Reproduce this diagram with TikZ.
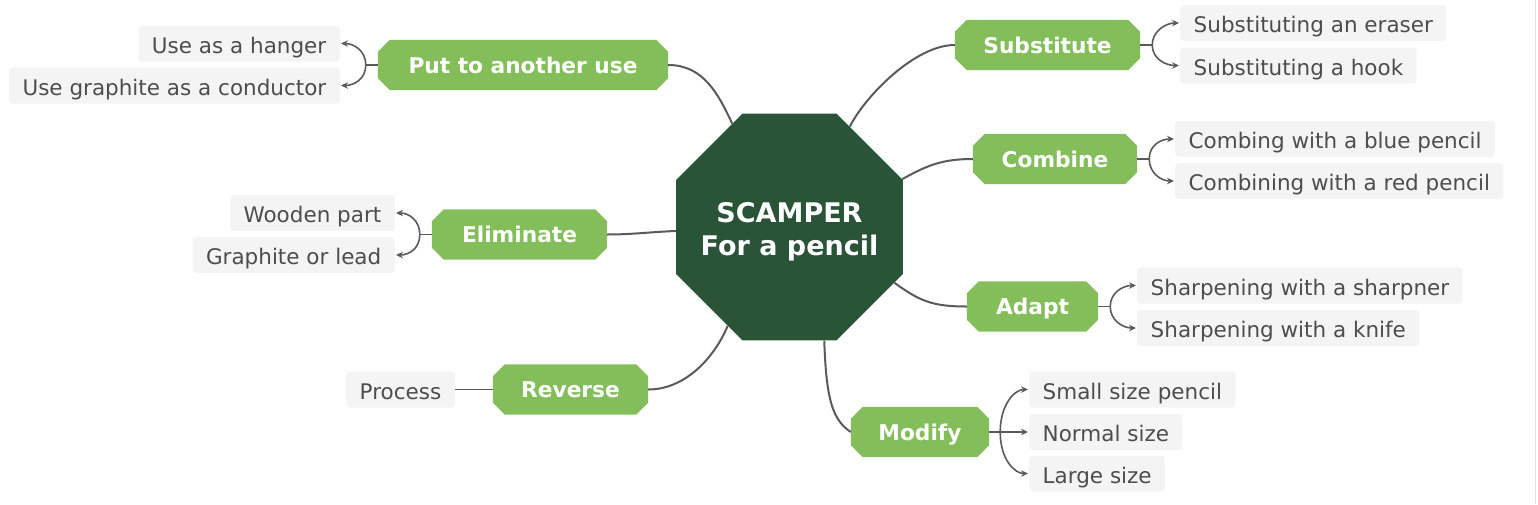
\documentclass[tikz,border=0pt]{standalone}
\usepackage{fontspec}
\setmainfont{DejaVu Sans}
\usetikzlibrary{shapes.geometric,arrows.meta,calc,backgrounds}
\definecolor{dkgreen}{RGB}{41,84,56}
\definecolor{ltgreen}{RGB}{132,190,90}
\definecolor{leafbg}{RGB}{244,244,244}
\definecolor{leaftxt}{RGB}{77,77,77}
\definecolor{linec}{RGB}{90,90,90}
\definecolor{edgec}{RGB}{225,225,225}
\tikzset{
  centerbox/.style={regular polygon, regular polygon sides=8, minimum size=245.6pt, inner sep=0pt,
    fill=dkgreen, text=white, font=\fontsize{27}{33}\selectfont\bfseries},
  gbox/.style={minimum height=50pt, inner sep=0pt, text height=16pt, text depth=0pt, text=white,
    font=\fontsize{21.7}{26}\selectfont\bfseries},
  leaf/.style={fill=leafbg, rounded corners=4pt, minimum height=36pt, inner xsep=13.5pt, inner ysep=0pt,
    text height=19pt, text depth=0pt, text=leaftxt, font=\fontsize{21.5}{26}\selectfont},
  mainline/.style={draw=linec, line width=2pt},
  subline/.style={draw=linec, line width=1.6pt},
  arrline/.style={subline, -{Stealth[length=7pt,width=6.5pt]}, shorten >=1pt},
}
\newcommand{\chamfill}[2]{%
  \begin{scope}[on background layer]
  \fill[ltgreen] ($(#1.north west)+(#2,0pt)$) -- ($(#1.north east)+(-#2,0pt)$) -- ($(#1.north east)+(0pt,-#2)$)
    -- ($(#1.south east)+(0pt,#2)$) -- ($(#1.south east)+(-#2,0pt)$) -- ($(#1.south west)+(#2,0pt)$)
    -- ($(#1.south west)+(0pt,#2)$) -- ($(#1.north west)+(0pt,-#2)$) -- cycle;
  \end{scope}}
\begin{document}
\begin{tikzpicture}[x=1pt,y=-1pt]
\useasboundingbox (0,0) rectangle (1538,504);
\draw[edgec, line width=1pt] (1535.5,0) -- (1535.5,504);

% center
\node[centerbox] (c) at (789.5,227) {\smash{\makebox[0pt]{\raisebox{-12pt}{\begin{tabular}{@{}c@{}}SCAMPER\\For a pencil\end{tabular}}}}};

% green nodes
\node[gbox, minimum width=290pt] (put) at (523,65) {Put to another use};
\node[gbox, minimum width=175pt] (elim) at (519.5,234.5) {Eliminate};
\node[gbox, minimum width=155pt] (rev) at (570.5,389.5) {Reverse};
\node[gbox, minimum width=185pt] (subst) at (1047.5,45) {Substitute};
\node[gbox, minimum width=164pt] (comb) at (1055,159) {Combine};
\node[gbox, minimum width=131pt] (adapt) at (1032.5,306.5) {Adapt};
\node[gbox, minimum width=138pt] (mod) at (920,432) {Modify};
\chamfill{put}{12pt}
\chamfill{elim}{12pt}
\chamfill{rev}{12pt}
\chamfill{subst}{12pt}
\chamfill{comb}{12pt}
\chamfill{adapt}{12pt}
\chamfill{mod}{12pt}

% leaves
\node[leaf, anchor=east] (hang) at (340,43.5) {Use as a hanger};
\node[leaf, anchor=east] (cond) at (340,85.5) {Use graphite as a conductor};
\node[leaf, anchor=east] (wood) at (395,213) {Wooden part};
\node[leaf, anchor=east] (graph) at (395,255) {Graphite or lead};
\node[leaf, anchor=east] (proc) at (455,389.5) {Process};
\node[leaf, anchor=west] (eraser) at (1180,23) {Substituting an eraser};
\node[leaf, anchor=west] (hook) at (1180,65.5) {Substituting a hook};
\node[leaf, anchor=west] (blue) at (1175,139) {Combing with a blue pencil};
\node[leaf, anchor=west] (red) at (1175,181) {Combining with a red pencil};
\node[leaf, anchor=west] (sharp) at (1137,285.5) {Sharpening with a sharpner};
\node[leaf, anchor=west] (knife) at (1137,328) {Sharpening with a knife};
\node[leaf, anchor=west] (small) at (1029,389.5) {Small size pencil};
\node[leaf, anchor=west] (normal) at (1029,432) {Normal size};
\node[leaf, anchor=west] (large) at (1029,473.5) {Large size};

% center connectors
\draw[mainline] (put.east) .. controls +(35pt,0pt) and +(-14pt,30pt) .. (c.119);
\draw[mainline] (c.59) .. controls +(15pt,30pt) and +(-40pt,0pt) .. (subst.west);
\draw[mainline] (c.23) .. controls +(25pt,14pt) and +(-30pt,0pt) .. (comb.west);
\draw[mainline] (c.-28) .. controls +(25pt,-18pt) and +(-35pt,0pt) .. (adapt.west);
\draw[mainline] (c.-73) .. controls +(2pt,-60pt) and +(-18pt,12pt) .. (mod.west);
\draw[mainline] (c.238) .. controls +(-15pt,-35pt) and +(35pt,0pt) .. (rev.east);
\draw[mainline] (elim.east) .. controls +(25pt,0pt) and +(-25pt,-1pt) .. (c.182);

% leaf connectors
\draw[subline] (put.west) -- ++(-12pt,0pt) coordinate (jput);
\draw[arrline] (jput) .. controls +(0pt,14pt) and +(14pt,0pt) .. (hang.east);
\draw[arrline] (jput) .. controls +(0pt,-14pt) and +(14pt,0pt) .. (cond.east);

\draw[subline] (elim.west) -- ++(-12pt,0pt) coordinate (jelim);
\draw[arrline] (jelim) .. controls +(0pt,14pt) and +(14pt,0pt) .. (wood.east);
\draw[arrline] (jelim) .. controls +(0pt,-14pt) and +(14pt,0pt) .. (graph.east);

\draw[subline] (rev.west) -- (proc.east);

\draw[subline] (subst.east) -- ++(12pt,0pt) coordinate (jsub);
\draw[arrline] (jsub) .. controls +(0pt,14pt) and +(-14pt,0pt) .. (eraser.west);
\draw[arrline] (jsub) .. controls +(0pt,-14pt) and +(-14pt,0pt) .. (hook.west);

\draw[subline] (comb.east) -- ++(12pt,0pt) coordinate (jcomb);
\draw[arrline] (jcomb) .. controls +(0pt,14pt) and +(-14pt,0pt) .. (blue.west);
\draw[arrline] (jcomb) .. controls +(0pt,-14pt) and +(-14pt,0pt) .. (red.west);

\draw[subline] (adapt.east) -- ++(12pt,0pt) coordinate (jadapt);
\draw[arrline] (jadapt) .. controls +(0pt,14pt) and +(-14pt,0pt) .. (sharp.west);
\draw[arrline] (jadapt) .. controls +(0pt,-14pt) and +(-14pt,0pt) .. (knife.west);

\coordinate (jmod) at ($(mod.east)+(11pt,0pt)$);
\draw[arrline] (mod.east) -- (normal.west);
\draw[arrline] (jmod) .. controls +(0pt,28pt) and +(-14pt,0pt) .. (small.west);
\draw[arrline] (jmod) .. controls +(0pt,-28pt) and +(-14pt,0pt) .. (large.west);
\end{tikzpicture}
\end{document}
